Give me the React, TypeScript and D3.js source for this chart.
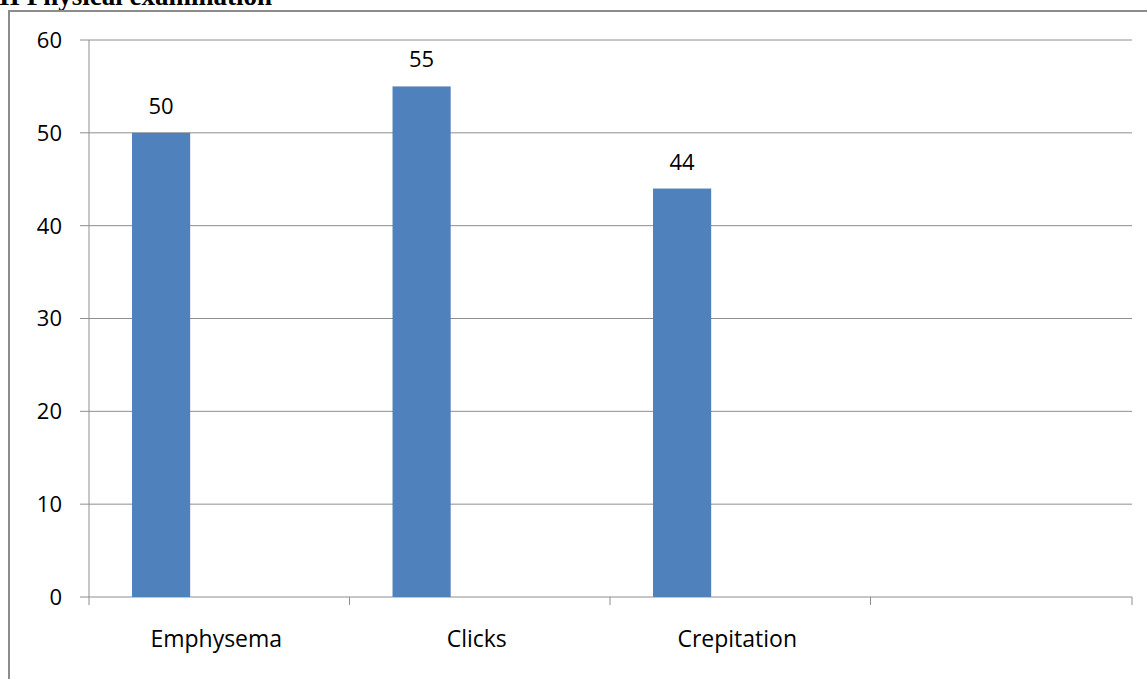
import React from "react";
import * as d3 from "d3";

const categories = ["Emphysema", "Clicks", "Crepitation", ""];
const seriesNames = ["S1", "S2", "S3"];
const values: (number | null)[] = [50, 55, 44, null];
const yTicks = [0, 10, 20, 30, 40, 50, 60];
const title = "II Physical examination";

export default function App() {
  const W = 1147, H = 679;
  const left = 89, right = 1131, top = 40, bottom = 597;
  const x = d3.scaleBand<string>().domain(categories.map((c, i) => String(i))).range([left, right]).paddingInner(0).paddingOuter(0);
  const inner = d3.scaleBand<string>().domain(seriesNames).range([0, x.bandwidth()]).paddingInner(0).paddingOuter(0.74);
  const y = d3.scaleLinear().domain([0, 60]).range([bottom, top]);
  const font = "'Open Sans', 'DejaVu Sans', sans-serif";
  const fs = 22;
  const bw = inner.bandwidth();
  return (
    <svg width={W} height={H} style={{ position: "absolute", left: 0, top: 0, background: "#fff" }}>
      <text x={-1} y={5} fontFamily="'Liberation Serif', serif" fontWeight="bold" fontSize={27} fill="#000">{title}</text>
      <rect x={9} y={11} width={W + 20} height={H + 20} fill="none" stroke="#8c8c8c" strokeWidth={2} />
      {yTicks.map((t) => (
        <g key={t}>
          {t > 0 && <line x1={left} x2={right + 1} y1={y(t)} y2={y(t)} stroke="#8e8e8e" strokeWidth={1} />}
          <line x1={left - 9} x2={left} y1={y(t)} y2={y(t)} stroke="#8e8e8e" strokeWidth={1} />
          <text x={62} y={y(t)} dy="0.36em" textAnchor="end" fontFamily={font} fontSize={fs} fill="#000">{t}</text>
        </g>
      ))}
      <line x1={left} x2={left} y1={top} y2={bottom} stroke="#8e8e8e" strokeWidth={1} />
      <line x1={left} x2={right + 1} y1={bottom} y2={bottom} stroke="#8e8e8e" strokeWidth={1} />
      {categories.map((c, i) => {
        const x0 = x(String(i))!;
        return <line key={"t" + i} x1={x0} x2={x0} y1={bottom} y2={bottom + 8} stroke="#8e8e8e" strokeWidth={1} />;
      })}
      <line x1={right + 1} x2={right + 1} y1={bottom} y2={bottom + 8} stroke="#8e8e8e" strokeWidth={1} />
      {values.map((v, i) => {
        if (v == null) return null;
        const bx = x(String(i))! + inner(seriesNames[0])!;
        return (
          <g key={"b" + i}>
            <rect x={bx} y={y(v)} width={bw} height={bottom - y(v)} fill="#4F81BD" />
            <text x={bx + bw / 2} y={y(v) - 19} textAnchor="middle" fontFamily={font} fontSize={fs} fill="#000">{v}</text>
          </g>
        );
      })}
      {categories.map((c, i) => (
        <text key={"c" + i} x={x(String(i))! + x.bandwidth() / 2 - 3} y={647} textAnchor="middle" fontFamily={font} fontSize={23} fill="#000">{c}</text>
      ))}
    </svg>
  );
}
